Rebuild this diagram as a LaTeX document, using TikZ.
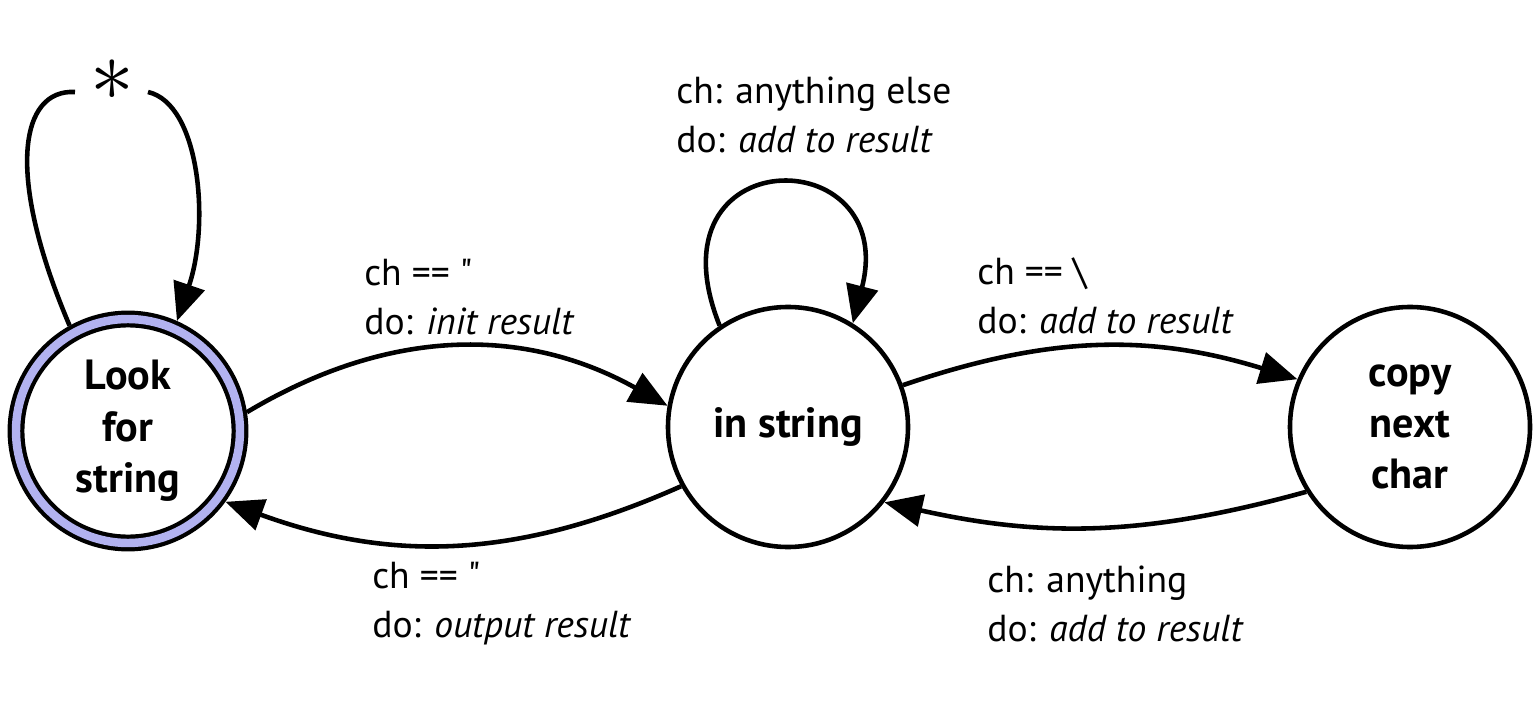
\documentclass[tikz,border=0pt]{standalone}
\usepackage{fontspec}
\setmainfont{PT Sans}
\usepackage{tikz}
\usetikzlibrary{arrows.meta}
\definecolor{ringblue}{RGB}{178,178,240}

\begin{document}
\begin{tikzpicture}[>={Triangle[length=3.8mm,width=3.2mm]},line width=1.3pt,
  state/.style={circle,draw,minimum size=2.40cm,inner sep=0pt,align=center,font=\fontsize{12}{14.6}\selectfont\bfseries},
  lbl/.style={anchor=west,inner sep=0pt,align=left,font=\fontsize{10.7}{13.9}\selectfont}]
\useasboundingbox (0,0) rectangle (15.38,7.24);
% states
\node[state,double=ringblue,double distance=2.4pt,line width=1.2pt,minimum size=2.24cm,outer sep=2.4pt] (look) at (1.28,2.93) {Look\\for\\string};
\node[state] (instr) at (7.88,2.97) {in string};
\node[state] (copy) at (14.10,2.97) {copy\\next\\char};
% transitions
\draw[->] (look.9) to[bend left=30] (instr.170);
\draw[->] (instr.209) to[bend left=22] (look.-36);
\draw[->] (instr.20) to[bend left=18] (copy.157);
\draw[->] (copy.212) to[bend left=14] (instr.-38);
\draw[->] (instr.124) .. controls (6.45,5.85) and (9.0,5.85) .. (instr.58);
% loop on the start state, split by the star
\node (star) at (1.12,6.44) {\Huge$\ast$};
\coordinate (loopL) at (0.75,6.32);
\coordinate (loopR) at (1.48,6.32);
\draw (look.119) .. controls (0.05,5.5) and (0.2,6.35) .. (loopL);
\draw[->] (loopR) .. controls (2.0,6.2) and (2.1,5.0) .. (look.66);
% labels
\node[lbl] (initlbl) at (3.62,4.27) {ch == \textquotedbl\\do: \textit{init result}};
\node[lbl] (outlbl) at (3.70,1.20) {ch == \textquotedbl\\do: \textit{output result}};
\node[lbl] (esclbl) at (9.75,4.28) {ch == \textbackslash\\do: \textit{add to result}};
\node[lbl] (anylbl) at (9.85,1.20) {ch: anything\\do: \textit{add to result}};
\node[lbl] (elselbl) at (6.74,6.09) {ch: anything else\\do: \textit{add to result}};
\end{tikzpicture}
\end{document}
